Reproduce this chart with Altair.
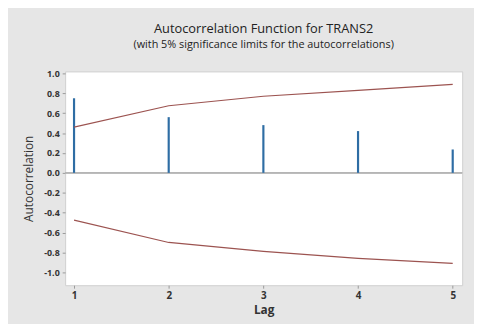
import altair as alt
import pandas as pd

lags = [1, 2, 3, 4, 5]
acf = [0.75, 0.56, 0.48, 0.42, 0.235]
upper = [0.46, 0.675, 0.77, 0.83, 0.89]
lower = [-0.475, -0.70, -0.79, -0.86, -0.91]
y_ticks = [-1.0, -0.8, -0.6, -0.4, -0.2, 0.0, 0.2, 0.4, 0.6, 0.8, 1.0]

df = pd.DataFrame({"lag": lags, "acf": acf, "upper": upper, "lower": lower, "zero": [0.0] * 5})

FONT = "Open Sans"
xscale = alt.Scale(domain=[0.906, 5.10], nice=False, zero=False)
yscale = alt.Scale(domain=[-1.13, 1.02], nice=False, zero=False)

xaxis = alt.Axis(values=lags, format="d", title="Lag", grid=False,
                 labelFont=FONT, labelFontSize=10, labelFontWeight="bold", labelColor="#333",
                 titleFont=FONT, titleFontSize=12, titleFontWeight="bold", titleColor="#333",
                 tickSize=3, tickColor="#999", domain=False, labelPadding=2, titlePadding=5)
yaxis = alt.Axis(values=y_ticks, title="Autocorrelation", grid=False,
                 labelExpr="replace(format(datum.value, '.1f'), '\u2212', '-')",
                 labelFont=FONT, labelFontSize=9, labelFontWeight="bold", labelColor="#333",
                 titleFont=FONT, titleFontSize=12, titleFontWeight="normal", titleColor="#333",
                 tickSize=3, tickColor="#999", domain=False, labelPadding=3, titlePadding=8)

base = alt.Chart(df)

zero_rule = base.mark_rule(color="#b5b5b5", strokeWidth=1).encode(
    y=alt.Y("zero:Q", scale=yscale, axis=yaxis),
)

bars = base.mark_rule(color="#2e6da4", strokeWidth=2.2).encode(
    x=alt.X("lag:Q", scale=xscale, axis=xaxis),
    y=alt.Y("zero:Q", scale=yscale, axis=yaxis),
    y2="acf:Q",
)

up = base.mark_line(color="#9c5350", strokeWidth=1.2).encode(
    x=alt.X("lag:Q", scale=xscale, axis=xaxis),
    y=alt.Y("upper:Q", scale=yscale, axis=yaxis),
)
lo = base.mark_line(color="#9c5350", strokeWidth=1.2).encode(
    x=alt.X("lag:Q", scale=xscale, axis=xaxis),
    y=alt.Y("lower:Q", scale=yscale, axis=yaxis),
)

chart = alt.layer(zero_rule, bars, up, lo).properties(
    width=403,
    height=217,
    background="#e6e6e6",
    padding={"left": 15, "top": 13, "right": 11, "bottom": 6},
    title=alt.TitleParams(
        text="Autocorrelation Function for TRANS2",
        subtitle="(with 5% significance limits for the autocorrelations)",
        font=FONT, fontSize=13, fontWeight="normal", color="#222",
        subtitleFont=FONT, subtitleFontSize=11, subtitleColor="#222",
        anchor="middle", offset=20, subtitlePadding=3,
    ),
).configure_view(
    fill="white", stroke="#cfcfcf", strokeWidth=1
)

chart.save("out.html", embed_options={"renderer": "svg", "actions": False})
